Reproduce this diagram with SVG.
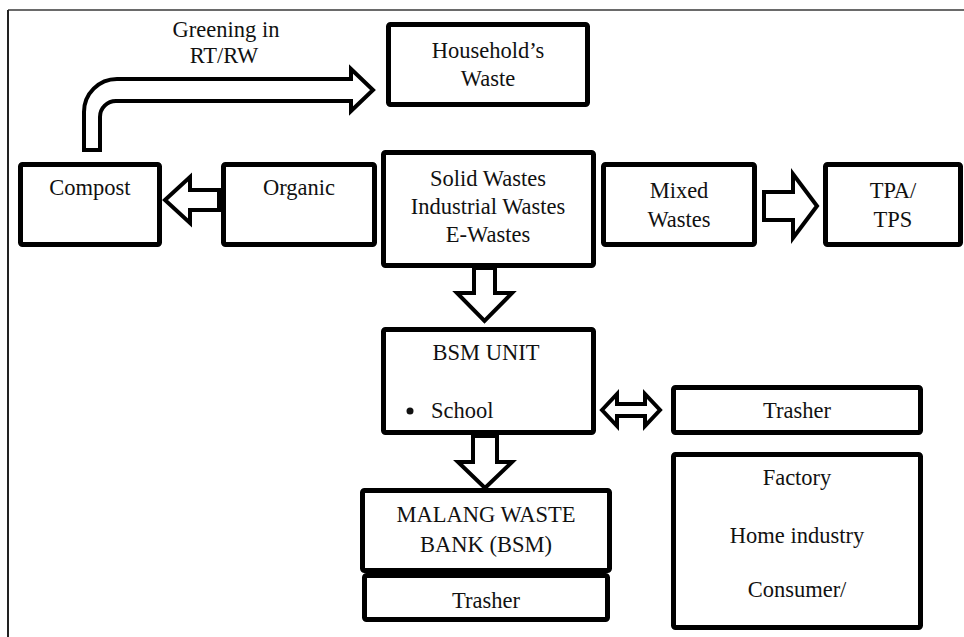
<svg xmlns="http://www.w3.org/2000/svg" width="964" height="637" viewBox="0 0 964 637">
<style>
.box{fill:#fff;stroke:#000;stroke-width:5;stroke-linejoin:round}
.arr{fill:#fff;stroke:#000;stroke-width:4;stroke-linejoin:miter}
.t{font-family:"Liberation Serif","DejaVu Serif","Times New Roman",Times,serif;font-size:22.5px;fill:#111;text-anchor:middle}
</style>
<rect x="0" y="0" width="964" height="637" fill="#fff"/>
<g id="frame">
<line x1="8" y1="10" x2="964" y2="10" stroke="#6a6a6a" stroke-width="2"/>
<line x1="8" y1="10" x2="8" y2="637" stroke="#222" stroke-width="2"/>
</g>
<g id="connectors">
<path class="arr" d="M84,150 V112 A33,33 0 0 1 117,79 H351 V69 L373,90 L351,111 V101 H116 A16,16 0 0 0 100,117 V150 Z"/>
<path class="arr" d="M165,200 L190,177 V190 H219 V210 H190 V223 Z"/>
<path class="arr" d="M764,192 H793 V174 L817,206 L793,238 V220 H764 Z"/>
<path class="arr" d="M474,268 V293 H457 L484.5,321 L512,293 H495 V268 Z"/>
<path class="arr" d="M473,436 V462 H458 L485,488 L512,462 H497 V436 Z"/>
<path class="arr" d="M602,410 L617,394 V404 H645 V394 L660,410 L645,426 V416 H617 V426 Z"/>
</g>
<g id="greening-label" class="t" font-family="Liberation Serif, serif">
<text class="t" x="226" y="37">Greening in</text>
<text class="t" x="224" y="63">RT/RW</text>
</g>
<g id="households-waste">
<rect class="box" x="388.5" y="24.5" width="199" height="80" rx="2"/>
<text class="t" x="488" y="58">Household’s</text>
<text class="t" x="488" y="86">Waste</text>
</g>
<g id="compost">
<rect class="box" x="20.5" y="164.5" width="139" height="80" rx="2"/>
<text class="t" x="90" y="195">Compost</text>
</g>
<g id="organic">
<rect class="box" x="223.5" y="164.5" width="151" height="80" rx="2"/>
<text class="t" x="299" y="195">Organic</text>
</g>
<g id="solid-wastes">
<rect class="box" x="383.5" y="152.5" width="210" height="113" rx="2"/>
<text class="t" x="488" y="186">Solid Wastes</text>
<text class="t" x="488" y="214">Industrial Wastes</text>
<text class="t" x="488" y="242">E-Wastes</text>
</g>
<g id="mixed-wastes">
<rect class="box" x="603.5" y="164.5" width="151" height="80" rx="2"/>
<text class="t" x="679" y="198">Mixed</text>
<text class="t" x="679" y="227">Wastes</text>
</g>
<g id="tpa-tps">
<rect class="box" x="825.5" y="164.5" width="135" height="80" rx="2"/>
<text class="t" x="893" y="198">TPA/</text>
<text class="t" x="893" y="227">TPS</text>
</g>
<g id="bsm-unit">
<rect class="box" x="383.5" y="329.5" width="210" height="103" rx="2"/>
<text class="t" x="486" y="360">BSM UNIT</text>
<circle cx="410" cy="411" r="3.5" fill="#111"/>
<text class="t" x="431" y="418" style="text-anchor:start">School</text>
</g>
<g id="trasher-right">
<rect class="box" x="673.5" y="387.5" width="247" height="45" rx="2"/>
<text class="t" x="797" y="418">Trasher</text>
</g>
<g id="factory">
<rect class="box" x="673.5" y="454.5" width="247" height="173" rx="2"/>
<text class="t" x="797" y="485">Factory</text>
<text class="t" x="797" y="543">Home industry</text>
<text class="t" x="797" y="597">Consumer/</text>
</g>
<g id="malang-waste-bank">
<rect class="box" x="362.5" y="490.5" width="247" height="80" rx="2"/>
<text class="t" x="486" y="522">MALANG WASTE</text>
<text class="t" x="486" y="552">BANK (BSM)</text>
</g>
<g id="trasher-bottom">
<rect class="box" x="364.5" y="575.5" width="243" height="44" rx="2"/>
<text class="t" x="486" y="608">Trasher</text>
</g>
</svg>
